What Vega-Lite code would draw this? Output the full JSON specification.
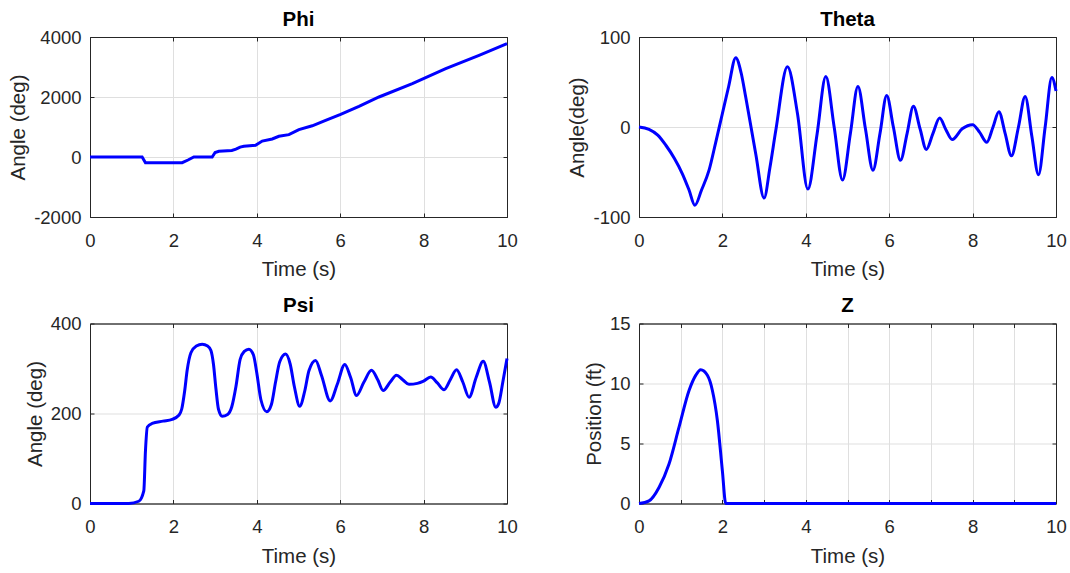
{
  "$schema": "https://vega.github.io/schema/vega-lite/v6.json",
  "background": "white",
  "padding": {"left": 8, "top": 9, "right": 5, "bottom": 0},
  "columns": 2,
  "spacing": {"row": 14.5, "column": 49},
  "config": {
    "font": "Liberation Sans",
    "view": {"stroke": "#262626", "strokeWidth": 1},
    "axis": {
      "labelFont": "Liberation Sans", "labelFontSize": 18.5, "labelColor": "#262626",
      "titleFont": "Liberation Sans", "titleFontSize": 20.5, "titleFontWeight": "normal", "titleColor": "#262626",
      "domainColor": "#262626", "tickColor": "#262626", "tickSize": -4,
      "gridColor": "#dfdfdf", "gridWidth": 1,
      "labelFlush": false, "labelOverlap": false
    },
    "axisX": {"labelPadding": 18, "titlePadding": 10},
    "axisY": {"labelPadding": 13, "titlePadding": 5},
    "title": {"font": "Liberation Sans", "fontSize": 20.5, "fontWeight": "bold", "color": "#000000", "offset": -2}
  },
  "datasets": {
    "phi": [
      {"t": 0, "v": 0}, {"t": 1.25, "v": 0}, {"t": 1.33, "v": -190}, {"t": 2.21, "v": -190},
      {"t": 2.35, "v": -100}, {"t": 2.49, "v": 0}, {"t": 2.93, "v": 0}, {"t": 3.0, "v": 150},
      {"t": 3.09, "v": 190}, {"t": 3.4, "v": 220}, {"t": 3.5, "v": 260}, {"t": 3.6, "v": 330},
      {"t": 3.69, "v": 357}, {"t": 3.97, "v": 390}, {"t": 4.13, "v": 530}, {"t": 4.37, "v": 600},
      {"t": 4.53, "v": 690}, {"t": 4.77, "v": 745}, {"t": 5.01, "v": 913}, {"t": 5.33, "v": 1040},
      {"t": 5.65, "v": 1223}, {"t": 6.01, "v": 1423}, {"t": 6.45, "v": 1690}, {"t": 6.93, "v": 2000},
      {"t": 7.73, "v": 2447}, {"t": 8.53, "v": 2947}, {"t": 9.33, "v": 3390}, {"t": 10, "v": 3780}
    ],
    "theta": [
      {"t": 0, "v": 0}, {"t": 0.24, "v": -2.6}, {"t": 0.45, "v": -9}, {"t": 0.64, "v": -20},
      {"t": 0.85, "v": -35}, {"t": 1.04, "v": -52}, {"t": 1.2, "v": -70}, {"t": 1.34, "v": -87},
      {"t": 1.5, "v": -70}, {"t": 1.68, "v": -48}, {"t": 1.84, "v": -17}, {"t": 2.0, "v": 15},
      {"t": 2.15, "v": 45}, {"t": 2.32, "v": 77}, {"t": 2.45, "v": 60}, {"t": 2.56, "v": 33},
      {"t": 2.8, "v": -30}, {"t": 3.0, "v": -79}, {"t": 3.14, "v": -45}, {"t": 3.28, "v": -4},
      {"t": 3.56, "v": 67}, {"t": 3.8, "v": 15}, {"t": 4.05, "v": -69}, {"t": 4.27, "v": -8},
      {"t": 4.48, "v": 56}, {"t": 4.68, "v": 0}, {"t": 4.88, "v": -59}, {"t": 5.07, "v": -7},
      {"t": 5.25, "v": 45}, {"t": 5.43, "v": -2}, {"t": 5.61, "v": -48}, {"t": 5.78, "v": -7},
      {"t": 5.94, "v": 35}, {"t": 6.1, "v": 0}, {"t": 6.27, "v": -37}, {"t": 6.43, "v": -7},
      {"t": 6.58, "v": 23}, {"t": 6.74, "v": -2}, {"t": 6.89, "v": -25}, {"t": 7.05, "v": -7},
      {"t": 7.21, "v": 10}, {"t": 7.36, "v": -3}, {"t": 7.51, "v": -14}, {"t": 7.75, "v": -2},
      {"t": 8.0, "v": 2.6}, {"t": 8.17, "v": -6}, {"t": 8.34, "v": -17}, {"t": 8.49, "v": 0},
      {"t": 8.63, "v": 17}, {"t": 8.78, "v": -7}, {"t": 8.93, "v": -32}, {"t": 9.1, "v": 0},
      {"t": 9.26, "v": 34}, {"t": 9.42, "v": -10}, {"t": 9.58, "v": -53}, {"t": 9.74, "v": 0},
      {"t": 9.9, "v": 55}, {"t": 10, "v": 40}
    ],
    "psi": [
      {"t": 0, "v": 0}, {"t": 0.93, "v": 0}, {"t": 1.17, "v": 5}, {"t": 1.29, "v": 28},
      {"t": 1.33, "v": 117}, {"t": 1.375, "v": 170}, {"t": 1.49, "v": 178}, {"t": 1.75, "v": 183},
      {"t": 1.97, "v": 187}, {"t": 2.13, "v": 196}, {"t": 2.2, "v": 210}, {"t": 2.27, "v": 250},
      {"t": 2.33, "v": 296}, {"t": 2.42, "v": 335}, {"t": 2.55, "v": 350}, {"t": 2.69, "v": 354},
      {"t": 2.82, "v": 350}, {"t": 2.9, "v": 340}, {"t": 2.96, "v": 310}, {"t": 3.02, "v": 255},
      {"t": 3.08, "v": 210}, {"t": 3.17, "v": 194}, {"t": 3.3, "v": 198}, {"t": 3.4, "v": 215},
      {"t": 3.5, "v": 260}, {"t": 3.6, "v": 320}, {"t": 3.7, "v": 338}, {"t": 3.81, "v": 343},
      {"t": 3.92, "v": 330}, {"t": 4.0, "v": 290}, {"t": 4.1, "v": 230}, {"t": 4.24, "v": 204},
      {"t": 4.35, "v": 220}, {"t": 4.45, "v": 270}, {"t": 4.55, "v": 315}, {"t": 4.69, "v": 332},
      {"t": 4.8, "v": 310}, {"t": 4.9, "v": 260}, {"t": 5.03, "v": 216}, {"t": 5.15, "v": 250},
      {"t": 5.25, "v": 295}, {"t": 5.41, "v": 318}, {"t": 5.55, "v": 285}, {"t": 5.76, "v": 228},
      {"t": 5.93, "v": 265}, {"t": 6.11, "v": 309}, {"t": 6.25, "v": 280}, {"t": 6.39, "v": 240},
      {"t": 6.57, "v": 270}, {"t": 6.75, "v": 296}, {"t": 6.9, "v": 275}, {"t": 7.03, "v": 251},
      {"t": 7.2, "v": 270}, {"t": 7.35, "v": 285}, {"t": 7.5, "v": 275}, {"t": 7.65, "v": 265},
      {"t": 7.85, "v": 267}, {"t": 8.0, "v": 272}, {"t": 8.17, "v": 281}, {"t": 8.33, "v": 268},
      {"t": 8.49, "v": 253}, {"t": 8.64, "v": 275}, {"t": 8.79, "v": 297}, {"t": 8.94, "v": 270},
      {"t": 9.09, "v": 236}, {"t": 9.26, "v": 280}, {"t": 9.43, "v": 316}, {"t": 9.58, "v": 270},
      {"t": 9.73, "v": 214}, {"t": 9.8, "v": 222}, {"t": 9.9, "v": 270}, {"t": 10, "v": 322}
    ],
    "z": [
      {"t": 0, "v": 0}, {"t": 0.24, "v": 0.22}, {"t": 0.48, "v": 1.34}, {"t": 0.72, "v": 3.29},
      {"t": 0.96, "v": 6.36}, {"t": 1.2, "v": 9.42}, {"t": 1.36, "v": 10.68}, {"t": 1.48, "v": 11.15},
      {"t": 1.64, "v": 10.68}, {"t": 1.76, "v": 9.42}, {"t": 1.88, "v": 6.9}, {"t": 2.0, "v": 2.7},
      {"t": 2.08, "v": 0}, {"t": 10, "v": 0}
    ]
  },
  "concat": [
    {
      "title": "Phi", "width": 417, "height": 180,
      "data": {"name": "phi"},
      "layer": [
        {"mark": {"type": "line", "color": "#0000ff", "strokeWidth": 3},
         "encoding": {
           "x": {"field": "t", "type": "quantitative", "scale": {"domain": [0, 10], "nice": false, "zero": false},
                 "axis": {"orient": "bottom", "title": "Time (s)", "values": [0, 2, 4, 6, 8, 10], "labelExpr": "toString(datum.value)"}},
           "y": {"field": "v", "type": "quantitative", "scale": {"domain": [-2000, 4000], "nice": false, "zero": false},
                 "axis": {"orient": "left", "title": "Angle (deg)", "values": [-2000, 0, 2000, 4000], "labelExpr": "toString(datum.value)"}}
         }},
        {"mark": {"type": "line", "opacity": 0},
         "encoding": {
           "x": {"field": "t", "type": "quantitative", "axis": {"orient": "top", "title": null, "labels": false, "grid": false, "values": [0, 2, 4, 6, 8, 10]}},
           "y": {"field": "v", "type": "quantitative", "axis": {"orient": "right", "title": null, "labels": false, "grid": false, "values": [-2000, 0, 2000, 4000]}}
         }}
      ],
      "resolve": {"axis": {"x": "independent", "y": "independent"}}
    },
    {
      "title": "Theta", "width": 417, "height": 180,
      "data": {"name": "theta"},
      "layer": [
        {"mark": {"type": "line", "color": "#0000ff", "strokeWidth": 3, "interpolate": "monotone"},
         "encoding": {
           "x": {"field": "t", "type": "quantitative", "scale": {"domain": [0, 10], "nice": false, "zero": false},
                 "axis": {"orient": "bottom", "title": "Time (s)", "values": [0, 2, 4, 6, 8, 10], "labelExpr": "toString(datum.value)"}},
           "y": {"field": "v", "type": "quantitative", "scale": {"domain": [-100, 100], "nice": false, "zero": false},
                 "axis": {"orient": "left", "title": "Angle(deg)", "values": [-100, 0, 100], "labelExpr": "toString(datum.value)"}}
         }},
        {"mark": {"type": "line", "opacity": 0},
         "encoding": {
           "x": {"field": "t", "type": "quantitative", "axis": {"orient": "top", "title": null, "labels": false, "grid": false, "values": [0, 2, 4, 6, 8, 10]}},
           "y": {"field": "v", "type": "quantitative", "axis": {"orient": "right", "title": null, "labels": false, "grid": false, "values": [-100, 0, 100]}}
         }}
      ],
      "resolve": {"axis": {"x": "independent", "y": "independent"}}
    },
    {
      "title": "Psi", "width": 417, "height": 180,
      "data": {"name": "psi"},
      "layer": [
        {"mark": {"type": "line", "color": "#0000ff", "strokeWidth": 3, "interpolate": "monotone"},
         "encoding": {
           "x": {"field": "t", "type": "quantitative", "scale": {"domain": [0, 10], "nice": false, "zero": false},
                 "axis": {"orient": "bottom", "title": "Time (s)", "values": [0, 2, 4, 6, 8, 10], "labelExpr": "toString(datum.value)"}},
           "y": {"field": "v", "type": "quantitative", "scale": {"domain": [0, 400], "nice": false, "zero": false},
                 "axis": {"orient": "left", "title": "Angle (deg)", "values": [0, 200, 400], "labelExpr": "toString(datum.value)"}}
         }},
        {"mark": {"type": "line", "opacity": 0},
         "encoding": {
           "x": {"field": "t", "type": "quantitative", "axis": {"orient": "top", "title": null, "labels": false, "grid": false, "values": [0, 2, 4, 6, 8, 10]}},
           "y": {"field": "v", "type": "quantitative", "axis": {"orient": "right", "title": null, "labels": false, "grid": false, "values": [0, 200, 400]}}
         }}
      ],
      "resolve": {"axis": {"x": "independent", "y": "independent"}}
    },
    {
      "title": "Z", "width": 417, "height": 180,
      "data": {"name": "z"},
      "layer": [
        {"mark": {"type": "line", "color": "#0000ff", "strokeWidth": 3, "interpolate": "monotone"},
         "encoding": {
           "x": {"field": "t", "type": "quantitative", "scale": {"domain": [0, 10], "nice": false, "zero": false},
                 "axis": {"orient": "bottom", "title": "Time (s)", "values": [0, 1, 2, 3, 4, 5, 6, 7, 8, 9, 10], "labelExpr": "datum.value % 2 == 0 ? toString(datum.value) : ''"}},
           "y": {"field": "v", "type": "quantitative", "scale": {"domain": [0, 15], "nice": false, "zero": false},
                 "axis": {"orient": "left", "title": "Position (ft)", "values": [0, 5, 10, 15], "labelExpr": "toString(datum.value)"}}
         }},
        {"mark": {"type": "line", "opacity": 0},
         "encoding": {
           "x": {"field": "t", "type": "quantitative", "axis": {"orient": "top", "title": null, "labels": false, "grid": false, "values": [0, 1, 2, 3, 4, 5, 6, 7, 8, 9, 10]}},
           "y": {"field": "v", "type": "quantitative", "axis": {"orient": "right", "title": null, "labels": false, "grid": false, "values": [0, 5, 10, 15]}}
         }}
      ],
      "resolve": {"axis": {"x": "independent", "y": "independent"}}
    }
  ]
}
